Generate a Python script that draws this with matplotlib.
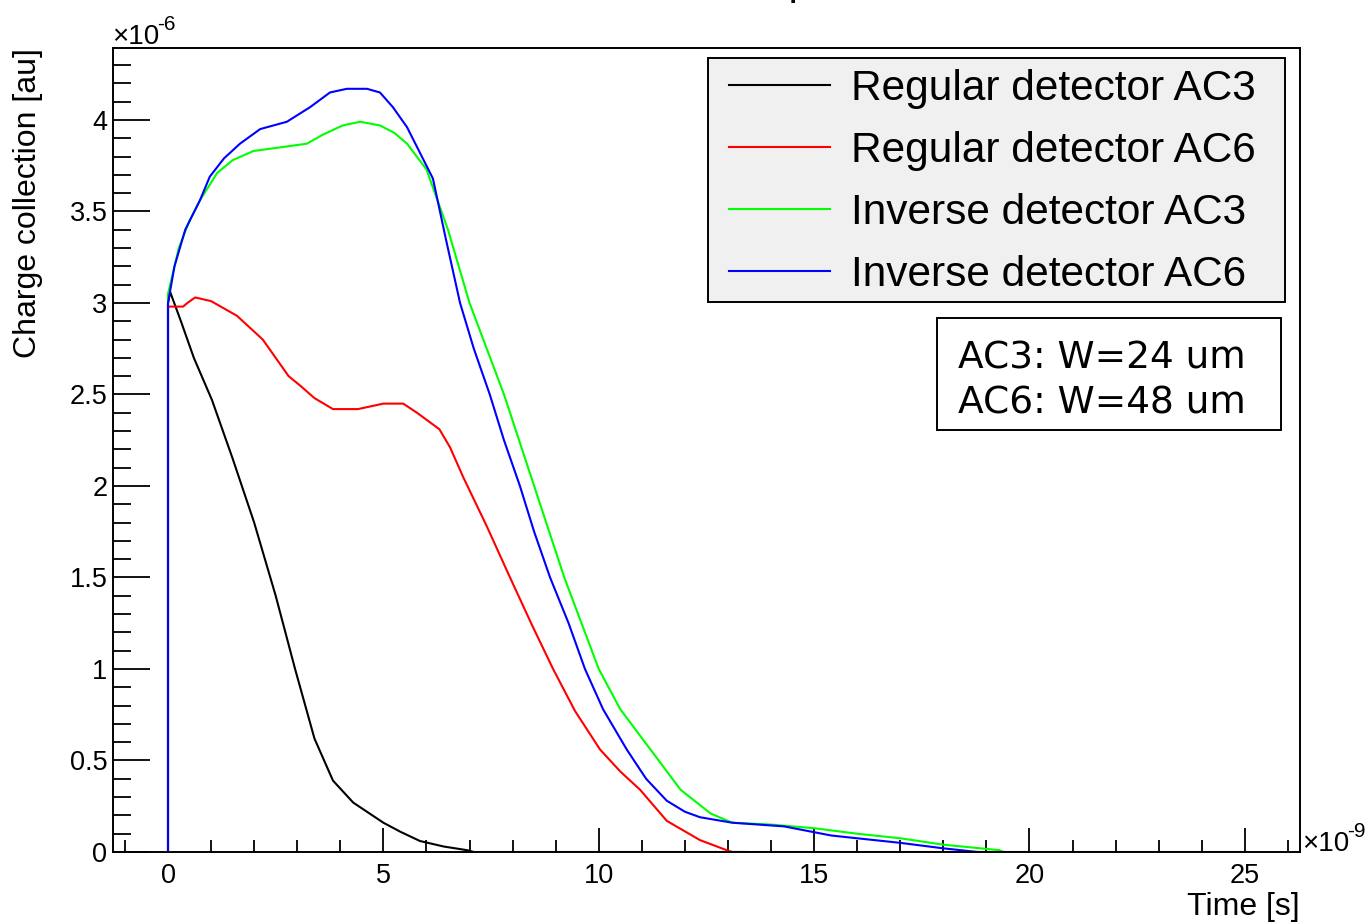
import matplotlib
matplotlib.use("Agg")
import matplotlib.pyplot as plt
from matplotlib.patches import Rectangle
from matplotlib.ticker import MultipleLocator, FuncFormatter

# ---------------- data (time in 1e-9 s, charge in 1e-6 au) ----------------
t_reg_ac3 = [0, 0, 0.05, 0.3, 0.6, 1.02, 1.5, 2.0, 2.5, 2.95, 3.4, 3.83, 4.3,
             5.0, 5.4, 5.85, 6.4, 6.94, 7.1, 13.4]
q_reg_ac3 = [0, 3.0, 3.06, 2.9, 2.7, 2.47, 2.15, 1.8, 1.4, 1.0, 0.62, 0.39,
             0.27, 0.16, 0.11, 0.06, 0.03, 0.01, 0.0, 0.0]

t_reg_ac6 = [0, 0, 0.35, 0.45, 0.63, 1.0, 1.6, 2.2, 2.8, 3.06, 3.4, 3.83, 4.41,
             5.0, 5.46, 5.78, 6.3, 6.55, 6.85, 7.4, 7.94, 8.45, 8.94, 9.45,
             10.03, 10.5, 10.96, 11.58, 12.35, 12.97, 13.1, 19.0]
q_reg_ac6 = [0, 2.98, 2.98, 3.0, 3.03, 3.01, 2.93, 2.8, 2.6, 2.55, 2.48, 2.42,
             2.42, 2.45, 2.45, 2.40, 2.31, 2.21, 2.05, 1.78, 1.5, 1.24, 1.0,
             0.77, 0.56, 0.44, 0.34, 0.17, 0.065, 0.01, 0.0, 0.0]

t_inv_ac3 = [0, 0, 0.25, 0.5, 0.74, 1.14, 1.5, 1.98, 2.6, 3.22, 3.6, 4.06, 4.46,
             4.92, 5.25, 5.55, 6.0, 6.5, 7.0, 7.4, 7.8, 8.15, 8.5, 8.85, 9.2,
             9.6, 10.0, 10.5, 11.2, 11.9, 12.6, 13.1, 14.0, 15.0, 16.0, 17.0,
             18.0, 19.3, 19.4]
q_inv_ac3 = [0, 3.05, 3.3, 3.45, 3.56, 3.71, 3.78, 3.83, 3.85, 3.87, 3.92, 3.97,
             3.99, 3.97, 3.93, 3.87, 3.73, 3.4, 3.0, 2.75, 2.5, 2.25, 2.0, 1.75,
             1.5, 1.25, 1.0, 0.78, 0.56, 0.34, 0.21, 0.16, 0.15, 0.13, 0.1,
             0.075, 0.04, 0.01, 0.0]

t_inv_ac6 = [0, 0, 0.15, 0.4, 0.74, 0.97, 1.3, 1.67, 2.14, 2.76, 3.3, 3.76, 4.15,
             4.62, 4.92, 5.22, 5.55, 5.85, 6.15, 6.45, 6.78, 7.1, 7.47, 7.8,
             8.17, 8.5, 8.87, 9.3, 9.68, 10.1, 10.65, 11.1, 11.58, 12.0, 12.35,
             13.1, 14.3, 15.4, 16.2, 17.0, 18.0, 18.8, 25.0]
q_inv_ac6 = [0, 3.0, 3.2, 3.4, 3.56, 3.69, 3.79, 3.87, 3.95, 3.99, 4.07, 4.15,
             4.17, 4.17, 4.15, 4.07, 3.96, 3.82, 3.68, 3.35, 3.0, 2.75, 2.5,
             2.25, 2.0, 1.75, 1.5, 1.25, 1.0, 0.78, 0.56, 0.4, 0.28, 0.22, 0.19,
             0.16, 0.14, 0.09, 0.07, 0.05, 0.02, 0.0, 0.0]

labels = ["Regular detector AC3", "Regular detector AC6",
          "Inverse detector AC3", "Inverse detector AC6"]
colors = ["#000000", "#ff0000", "#00ff00", "#0000ff"]
note_lines = ["AC3: W=24 um", "AC6: W=48 um"]
title_text = "Simulated current pulses"

# ---------------- figure ----------------
W, H = 1371, 923
fig = plt.figure(figsize=(W / 100, H / 100), dpi=100)


def fx(px):
    return px / W


def fy(py):
    return 1 - py / H


ax = fig.add_axes([fx(113), fy(852), fx(1300) - fx(113), fy(48) - fy(852)])

series = [(t_reg_ac3, q_reg_ac3), (t_reg_ac6, q_reg_ac6),
          (t_inv_ac3, q_inv_ac3), (t_inv_ac6, q_inv_ac6)]
for (t, q), lab, c in zip(series, labels, colors):
    ax.plot(t, q, color=c, lw=1.5, label=lab, zorder=2)

ax.set_xlim(-1.277, 26.28)
ax.set_ylim(0, 4.393)

ax.xaxis.set_major_locator(MultipleLocator(5))
ax.xaxis.set_minor_locator(MultipleLocator(1))
ax.yaxis.set_major_locator(MultipleLocator(0.5))
ax.yaxis.set_minor_locator(MultipleLocator(0.1))
ax.xaxis.set_major_formatter(FuncFormatter(lambda v, p: f"{v:g}"))
ax.yaxis.set_major_formatter(FuncFormatter(lambda v, p: f"{v:g}"))

for s in ax.spines.values():
    s.set_linewidth(1.4)
ax.tick_params(axis='both', which='both', direction='in', top=False, right=False,
               width=1.3, labelsize=19.5, colors='black')
ax.tick_params(axis='y', which='major', length=26.5, pad=4)
ax.tick_params(axis='y', which='minor', length=13)
ax.tick_params(axis='x', which='major', length=17.5, pad=8)
ax.tick_params(axis='x', which='minor', length=8.7)
for lbl in ax.get_xticklabels() + ax.get_yticklabels():
    lbl.set_family('Liberation Sans')

# axis titles
fig.text(fx(1300), fy(907), "Time [s]", ha='right', va='center',
         fontsize=23, family='Liberation Sans')
fig.text(fx(28), fy(48), "Charge collection [au]", ha='center', va='top',
         rotation=90, fontsize=23, family='Liberation Sans')

# exponent labels
fig.text(fx(112), fy(44), "\u00d710", ha='left', va='baseline',
         fontsize=20, family='Liberation Sans')
fig.text(fx(157), fy(30), "-6", ha='left', va='baseline',
         fontsize=15, family='Liberation Sans')
fig.text(fx(1302), fy(851), "\u00d710", ha='left', va='baseline',
         fontsize=20, family='Liberation Sans')
fig.text(fx(1347), fy(837), "-9", ha='left', va='baseline',
         fontsize=15, family='Liberation Sans')

# title (cut off at the top of the canvas, as in the original)
fig.text(fx(680), fy(-6), title_text, ha='center', va='baseline',
         fontsize=30, family='Liberation Sans')

# legend background box
ax.add_patch(Rectangle((fx(708), fy(302)), fx(1285) - fx(708),
                       fy(58) - fy(302), transform=fig.transFigure,
                       facecolor='#f0f0f0', edgecolor='black', lw=1.4,
                       zorder=4, clip_on=False))
leg = ax.legend(loc='upper left', bbox_to_anchor=(fx(729), fy(69)),
                bbox_transform=fig.transFigure, frameon=False,
                prop={'family': 'Liberation Sans', 'size': 30.5},
                handlelength=2.38, handletextpad=0.5, labelspacing=0.52,
                borderpad=0, borderaxespad=0)
leg.set_zorder(6)
for l in leg.get_lines():
    l.set_linewidth(1.5)

# note box
ax.add_patch(Rectangle((fx(937), fy(430)), fx(1281) - fx(937),
                       fy(318) - fy(430), transform=fig.transFigure,
                       facecolor='white', edgecolor='black', lw=1.4,
                       zorder=4, clip_on=False))
ax.text(fx(958), fy(354), note_lines[0], ha='left', va='center_baseline',
        fontsize=27, family='DejaVu Sans', zorder=6, transform=fig.transFigure)
ax.text(fx(958), fy(399), note_lines[1], ha='left', va='center_baseline',
        fontsize=27, family='DejaVu Sans', zorder=6, transform=fig.transFigure)

fig.savefig("out.png", dpi=100)
